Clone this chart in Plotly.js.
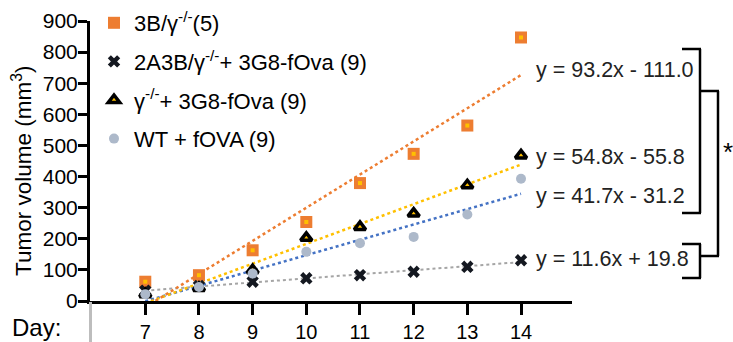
<!DOCTYPE html>
<html>
<head>
<meta charset="utf-8">
<script src="https://cdn.plot.ly/plotly-3.0.1.min.js"></script>
<style>html,body{margin:0;padding:0;background:#fff;}#chart{width:733px;height:342px;}</style>
</head>
<body>
<div id="chart"></div>
<script>
// ---- data ----
const days = [7, 8, 9, 10, 11, 12, 13, 14];
const vol3B = [62, 83, 163, 254, 379, 473, 564, 847];
const vol2A3B = [33, 48, 62, 73, 83, 94, 110, 131];
const volGamma = [22, 42, 99, 203, 238, 281, 372, 468];
const volWT = [22, 45, 88, 158, 186, 206, 278, 393];
const seriesNames = ["3B/γ<sup>-/-</sup>(5)", "2A3B/γ<sup>-/-</sup>+ 3G8-fOva (9)", "γ<sup>-/-</sup>+ 3G8-fOva (9)", "WT + fOVA (9)"];
const equations = ["y = 93.2x - 111.0", "y = 54.8x - 55.8", "y = 41.7x - 31.2", "y = 11.6x + 19.8"];
const yTicks = [0, 100, 200, 300, 400, 500, 600, 700, 800, 900];

// least squares fit line through the series, drawn over the day span
function fit(xs, ys) {
  const n = xs.length;
  const mx = xs.reduce((a, b) => a + b, 0) / n;
  const my = ys.reduce((a, b) => a + b, 0) / n;
  let sxy = 0, sxx = 0;
  for (let i = 0; i < n; i++) { sxy += (xs[i] - mx) * (ys[i] - my); sxx += (xs[i] - mx) ** 2; }
  const b = sxy / sxx, a = my - b * mx;
  const x0 = xs[0], x1 = xs[n - 1];
  return { x: [x0, x1], y: [a + b * x0, a + b * x1] };
}

const FONT = "Liberation Sans, Arial, Helvetica, sans-serif";
const orange = "#ED7D31", yellow = "#FFC000", blue = "#4472C4", gray = "#A5A5A5", wtColor = "#ADB9CA";

function fitTrace(ys, color, w) {
  const f = fit(days, ys);
  return { x: f.x, y: f.y, mode: "lines", line: { color: color, dash: "dot", width: w }, showlegend: false, hoverinfo: "skip" };
}

const traces = [
  fitTrace(vol2A3B, gray, 2),
  fitTrace(volWT, blue, 2.5),
  fitTrace(volGamma, yellow, 2.5),
  fitTrace(vol3B, orange, 2.5),
  { x: days, y: vol3B, name: seriesNames[0], mode: "markers", legendgroup: "a",
    marker: { symbol: "square", size: 12, color: orange } },
  { x: days, y: vol3B, mode: "markers", showlegend: false, hoverinfo: "skip",
    marker: { symbol: "square", size: 4, color: yellow } },
  { x: days, y: vol2A3B, name: seriesNames[1], mode: "markers", legendgroup: "b",
    marker: { symbol: "x", size: 11, color: "#141820", line: { width: 0 } } },
  { x: days, y: volGamma, name: seriesNames[2], mode: "markers", legendgroup: "c",
    marker: { symbol: "triangle-up", size: 10, color: yellow, line: { color: "#000000", width: 3.5 } } },
  { x: days, y: volWT, name: seriesNames[3], mode: "markers", legendgroup: "d",
    marker: { symbol: "circle", size: 10, color: wtColor } }
];

// pixel helpers for the annotation layer (plot area: left 90, right 572, top 21, bottom 301)
const W = 733, H = 342;
const L = 90, R = 572, T = 21, B = 301;
const px = v => (v - L) / (R - L);
const py = v => (B - v) / (B - T);

function seg(x0, y0, x1, y1, color, w) {
  return { type: "line", xref: "paper", yref: "paper", x0: px(x0), y0: py(y0), x1: px(x1), y1: py(y1),
    line: { color: color || "#000", width: w || 2.5 } };
}

const shapes = [
  seg(682, 49, 701, 49), seg(700, 49, 700, 213), seg(682, 213, 701, 213),
  seg(682, 244, 701, 244), seg(700, 244, 700, 278), seg(682, 278, 701, 278),
  seg(700, 91, 719, 91), seg(718, 91, 718, 256), seg(700, 256, 719, 256),
  seg(90.5, 302, 90.5, 342, "#BDBDBD", 3)
];

const eqY = [70, 157, 196, 259];
const annotations = equations.map((t, i) => ({
  text: t, xref: "paper", yref: "paper", x: px(534), y: py(eqY[i]), xanchor: "left", yanchor: "middle",
  showarrow: false, font: { family: FONT, size: 21.5, color: "#222" }
}));
annotations.push({ text: "*", xref: "paper", yref: "paper", x: px(728), y: py(152), xanchor: "center", yanchor: "middle",
  showarrow: false, font: { family: FONT, size: 26, color: "#000" } });
annotations.push({ text: "Day:", xref: "paper", yref: "paper", x: px(63), y: py(327), xanchor: "right", yanchor: "middle",
  showarrow: false, font: { family: FONT, size: 24, color: "#000" } });
annotations.push({ text: "Tumor volume (mm<sup>3</sup>)", xref: "paper", yref: "paper", x: px(22), y: py(171), textangle: -90,
  xanchor: "center", yanchor: "middle", showarrow: false, font: { family: FONT, size: 22.5, color: "#000" } });

const layout = {
  width: W, height: H,
  margin: { l: L, r: W - R, t: T, b: H - B, pad: 0, autoexpand: false },
  paper_bgcolor: "#fff", plot_bgcolor: "#fff",
  font: { family: FONT, color: "#000" },
  showlegend: true,
  legend: { xref: "container", yref: "container", x: 94 / W, y: 1 - 2 / H, xanchor: "left", yanchor: "top",
    bgcolor: "rgba(0,0,0,0)",
    font: { family: FONT, size: 22, color: "#000" }, traceorder: "grouped", tracegroupgap: 7 },
  xaxis: { range: [5.97, 14.95], tickvals: days, ticktext: days.map(String), showgrid: false, zeroline: false,
    showline: true, linewidth: 3, linecolor: "#000", ticks: "outside", ticklen: 11, tickwidth: 3, tickcolor: "#000",
    tickfont: { family: FONT, size: 20, color: "#000" }, fixedrange: true, automargin: false },
  yaxis: { range: [0, 900], tickvals: yTicks, showgrid: false, zeroline: false,
    showline: true, linewidth: 3, linecolor: "#000", ticks: "outside", ticklen: 9, tickwidth: 3, tickcolor: "#000",
    ticklabelstandoff: -4, automargin: false,
    tickfont: { family: FONT, size: 21, color: "#000" }, fixedrange: true },
  shapes: shapes,
  annotations: annotations
};

Plotly.newPlot("chart", traces, layout, { displayModeBar: false, staticPlot: true });
</script>
</body>
</html>
